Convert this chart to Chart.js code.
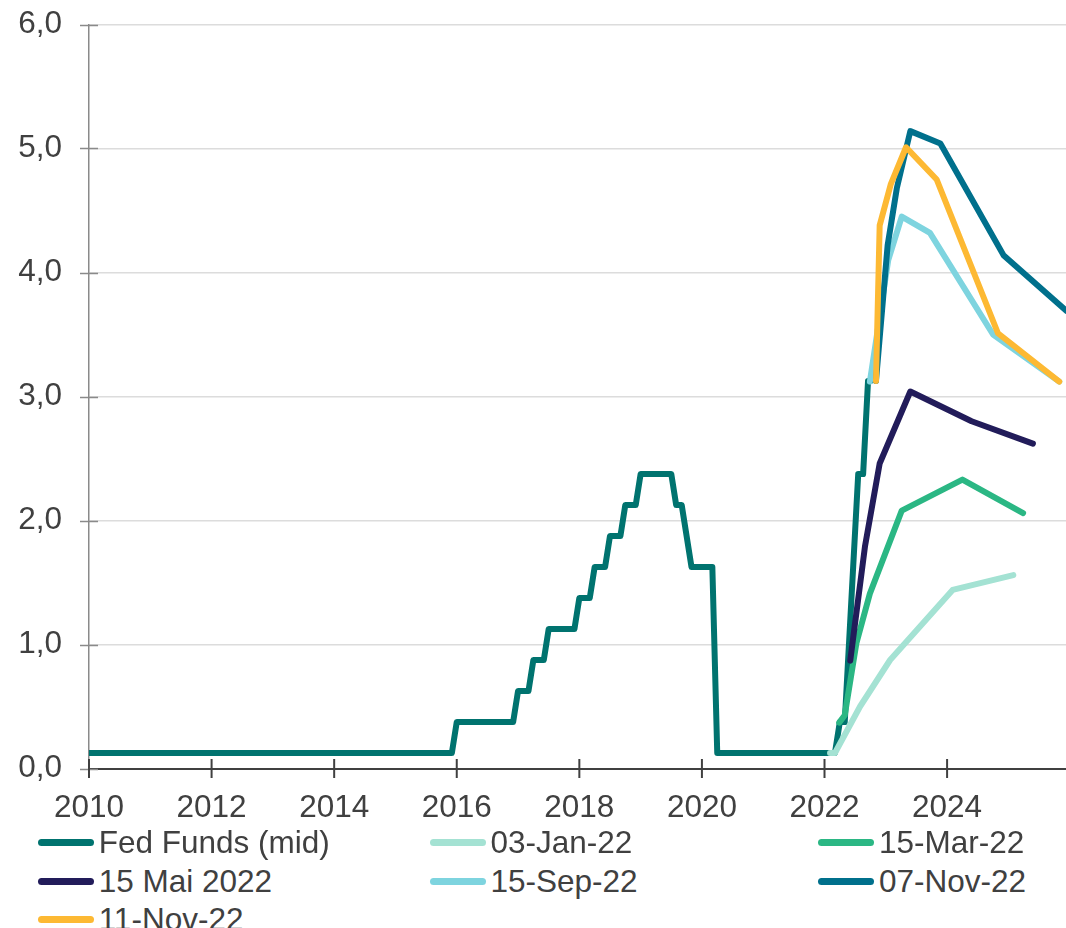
<!DOCTYPE html>
<html>
<head>
<meta charset="utf-8">
<script src="https://cdn.jsdelivr.net/npm/chart.js@4/dist/chart.umd.min.js"></script>
<style>
  html, body { margin: 0; padding: 0; background: #ffffff; }
  #wrap { position: relative; width: 1066px; height: 928px; overflow: hidden; }
  #chart { position: absolute; left: 0; top: 0; }
  .lg-item { position: absolute; display: flex; align-items: center; height: 36px;
             font: 31.5px "Liberation Sans", Arial, sans-serif; color: #404040; white-space: nowrap; }
  .lg-swatch { width: 56px; height: 7px; border-radius: 4px; margin-right: 5px; flex: none; }
</style>
</head>
<body>
<div id="wrap">
  <canvas id="chart" width="1066" height="830" style="width:1066px;height:830px"></canvas>
  <div id="legend"></div>
</div>
<script>
// Axis ticks
const xTickYears = [2010, 2012, 2014, 2016, 2018, 2020, 2022, 2024];
const yTickValues = [0, 1, 2, 3, 4, 5, 6];

// Series names and colours
const seriesNames = ['Fed Funds (mid)', '03-Jan-22', '15-Mar-22', '15 Mai 2022', '15-Sep-22', '07-Nov-22', '11-Nov-22'];
const seriesColors = ['#00736f', '#a4e2d3', '#2bb784', '#221c5a', '#7ed4df', '#00708c', '#fdb933'];

// Fed Funds target mid-point (%)
const fedFundsX = [2010.0, 2015.92, 2016.0, 2016.92, 2017.0, 2017.17, 2017.25, 2017.42, 2017.5, 2017.92,
                   2018.0, 2018.17, 2018.25, 2018.42, 2018.5, 2018.67, 2018.75, 2018.92, 2019.0, 2019.5,
                   2019.58, 2019.67, 2019.75, 2019.83, 2020.17, 2020.25, 2022.17, 2022.25, 2022.33, 2022.55,
                   2022.63, 2022.71, 2022.75];
const fedFundsY = [0.125, 0.125, 0.375, 0.375, 0.625, 0.625, 0.875, 0.875, 1.125, 1.125,
                   1.375, 1.375, 1.625, 1.625, 1.875, 1.875, 2.125, 2.125, 2.375, 2.375,
                   2.125, 2.125, 1.875, 1.625, 1.625, 0.125, 0.125, 0.375, 0.375, 2.375,
                   2.375, 3.125, 3.125];

// Market-implied paths by pricing date
const jan22X = [2022.09, 2022.17, 2022.58, 2023.07, 2024.09, 2025.08];
const jan22Y = [0.125, 0.125, 0.50, 0.875, 1.44, 1.56];

const mar22X = [2022.24, 2022.33, 2022.52, 2022.74, 2023.26, 2024.25, 2025.24];
const mar22Y = [0.37, 0.43, 1.01, 1.41, 2.08, 2.33, 2.06];

const may22X = [2022.42, 2022.66, 2022.90, 2023.40, 2024.40, 2025.40];
const may22Y = [0.87, 1.79, 2.46, 3.04, 2.80, 2.62];

const sep22X = [2022.74, 2023.04, 2023.26, 2023.72, 2024.75, 2025.83];
const sep22Y = [3.12, 4.10, 4.45, 4.32, 3.50, 3.12];

const nov07X = [2022.84, 2023.03, 2023.18, 2023.40, 2023.89, 2024.92, 2025.95];
const nov07Y = [3.125, 4.22, 4.68, 5.14, 5.04, 4.14, 3.69];

const nov11X = [2022.84, 2022.90, 2023.08, 2023.33, 2023.83, 2024.83, 2025.83];
const nov11Y = [3.125, 4.38, 4.71, 5.01, 4.75, 3.51, 3.12];

const seriesX = [fedFundsX, jan22X, mar22X, may22X, sep22X, nov07X, nov11X];
const seriesY = [fedFundsY, jan22Y, mar22Y, may22Y, sep22Y, nov07Y, nov11Y];

const FONT = '"Liberation Sans", Arial, sans-serif';
const TEXT = '#404040';

const datasets = seriesNames.map((name, i) => ({
  label: name,
  data: seriesX[i].map((x, k) => ({ x: x, y: seriesY[i][k] })),
  borderColor: seriesColors[i],
  backgroundColor: seriesColors[i],
  borderWidth: 6,
  pointRadius: 0,
  pointHoverRadius: 0,
  tension: 0,
  fill: false,
  borderCapStyle: 'round',
  borderJoinStyle: 'round',
  // later series sit on top of earlier ones
  order: seriesNames.length - i
}));

// Tick marks that cross both axes
const crossTicks = {
  id: 'crossTicks',
  beforeDatasetsDraw(chart) {
    const ctx = chart.ctx;
    const xs = chart.scales.x, ys = chart.scales.y;
    const area = chart.chartArea;
    ctx.save();
    ctx.strokeStyle = '#8a8a8a';
    ctx.lineWidth = 1.5;
    ys.ticks.forEach(t => {
      const py = Math.round(ys.getPixelForValue(t.value)) + 0.5;
      ctx.beginPath();
      ctx.moveTo(area.left - 9, py);
      ctx.lineTo(area.left + 9, py);
      ctx.stroke();
    });
    ctx.strokeStyle = '#404040';
    ctx.lineWidth = 2;
    xs.ticks.forEach(t => {
      const px = xs.getPixelForValue(t.value);
      ctx.beginPath();
      ctx.moveTo(px, area.bottom - 9.5);
      ctx.lineTo(px, area.bottom + 9.5);
      ctx.stroke();
    });
    ctx.restore();
  }
};

const chart = new Chart(document.getElementById('chart'), {
  type: 'line',
  data: { datasets: datasets },
  options: {
    responsive: false,
    animation: false,
    devicePixelRatio: 1,
    layout: { padding: { left: 0, right: 0, top: 24.5, bottom: 0 } },
    plugins: { legend: { display: false }, tooltip: { enabled: false } },
    scales: {
      x: {
        type: 'linear',
        min: 2010,
        max: 2025.94,
        afterBuildTicks: s => { s.ticks = xTickYears.map(v => ({ value: v })); },
        afterFit: s => { s.height = 61.5; s.paddingLeft = 0; s.paddingRight = 0; },
        grid: { display: false, drawTicks: false },
        border: { display: true, color: '#404040', width: 2 },
        ticks: {
          padding: 21,
          maxRotation: 0,
          autoSkip: false,
          color: TEXT,
          font: { family: FONT, size: 31.5 },
          callback: v => String(v)
        }
      },
      y: {
        type: 'linear',
        min: 0,
        max: 6,
        afterBuildTicks: s => { s.ticks = yTickValues.map(v => ({ value: v })); },
        afterFit: s => { s.width = 89; s.paddingTop = 0; s.paddingBottom = 0; },
        grid: {
          drawTicks: false,
          lineWidth: 1.5,
          color: c => (c.tick && c.tick.value === 0) ? 'rgba(0,0,0,0)' : '#dcdcdc'
        },
        border: { display: true, color: '#8a8a8a', width: 1.5 },
        ticks: {
          padding: 27,
          color: TEXT,
          font: { family: FONT, size: 31.5 },
          callback: v => Number(v).toFixed(1).replace('.', ',')
        }
      }
    }
  },
  plugins: [crossTicks]
});

// Legend in three columns, built from the chart's datasets
const legendCols = [37.7, 429.5, 818];
const legendRows = [842, 881, 919.5];
const legendEl = document.getElementById('legend');
chart.data.datasets.forEach((ds, i) => {
  const item = document.createElement('div');
  item.className = 'lg-item';
  item.style.left = legendCols[i % 3] + 'px';
  item.style.top = (legendRows[Math.floor(i / 3)] - 18) + 'px';
  const sw = document.createElement('span');
  sw.className = 'lg-swatch';
  sw.style.background = ds.borderColor;
  const tx = document.createElement('span');
  tx.textContent = ds.label;
  item.appendChild(sw);
  item.appendChild(tx);
  legendEl.appendChild(item);
});
</script>
</body>
</html>
